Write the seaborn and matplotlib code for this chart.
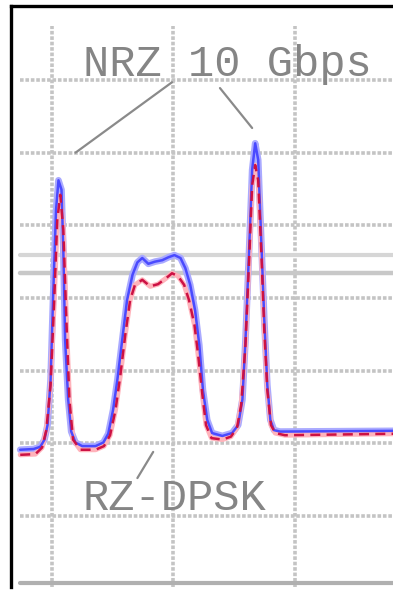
import numpy as np
import pandas as pd
import seaborn as sns
import matplotlib.pyplot as plt

# Frequency offset (GHz) and optical power (dB)
NRZ_FREQ = [-25.2, -23.0, -21.9, -21.2, -20.7, -20.2, -19.8, -19.3, -18.9, -18.4,
            -18.1, -17.8, -17.3, -16.8, -16.1, -15.0, -12.8, -11.5, -10.7, -9.9,
            -9.2, -8.4, -7.6, -6.7, -5.9, -5.1, -4.1, -3.0, -1.8, -0.8,
            0.2, 1.2, 2.0, 2.8, 3.6, 4.3, 4.9, 5.6, 6.4, 8.1,
            9.7, 10.7, 11.4, 11.9, 12.5, 13.0, 13.5, 14.0, 14.5, 15.0,
            15.5, 16.0, 16.6, 17.6, 36.2]
NRZ_POWER = [-60.9, -60.8, -60.5, -59.5, -57.5, -51.3, -40.3, -27.9, -23.8, -25.1,
             -33.4, -45.8, -54.0, -58.4, -59.9, -60.4, -60.4, -59.9, -58.7, -55.4,
             -51.3, -45.8, -40.3, -36.8, -35.1, -34.5, -35.3, -35.0, -34.8, -34.4,
             -34.1, -34.5, -35.9, -38.2, -41.7, -46.5, -52.7, -56.8, -58.6, -59.0,
             -58.6, -57.5, -54.0, -45.8, -33.4, -22.4, -18.7, -21.0, -32.0, -43.0,
             -52.0, -56.8, -58.2, -58.4, -58.3]

RZ_FREQ = [-25.2, -22.7, -21.6, -20.9, -20.2, -19.6, -19.1, -18.6, -18.1, -17.6,
           -17.1, -16.5, -15.3, -12.8, -11.4, -10.4, -9.5, -8.7, -7.9, -7.1,
           -6.3, -5.1, -3.8, -2.5, -1.2, -0.2, 0.8, 1.8, 2.6, 3.5,
           4.1, 4.8, 5.4, 6.3, 8.1, 9.5, 10.5, 11.2, 11.9, 12.5,
           13.0, 13.5, 14.0, 14.5, 15.0, 15.5, 16.1, 16.8, 18.4, 36.2]
RZ_POWER = [-61.6, -61.5, -60.6, -58.2, -52.0, -40.3, -29.3, -25.8, -30.6, -43.0,
            -54.0, -59.5, -60.9, -60.9, -60.4, -58.9, -55.4, -50.6, -45.1, -40.3,
            -38.2, -37.5, -38.4, -38.1, -37.3, -36.6, -37.0, -38.2, -40.3, -43.7,
            -47.8, -53.3, -57.5, -59.3, -59.5, -59.1, -57.9, -54.7, -46.5, -34.8,
            -24.5, -21.7, -23.8, -33.4, -44.4, -52.7, -57.5, -58.6, -58.9, -58.7]

X_GRID = [-20, 0, 20]
Y_GRID = [-10, -20, -30, -40, -50, -60, -70]
REF_LEVELS = [-34.1, -36.5]

nrz = pd.DataFrame({"freq": NRZ_FREQ, "power": NRZ_POWER})
rz = pd.DataFrame({"freq": RZ_FREQ, "power": RZ_POWER})

sns.set_style("white")
plt.rcParams['font.family'] = ['Liberation Mono', 'DejaVu Sans Mono']

fig = plt.figure(figsize=(3.93, 5.90), dpi=100)
ax = fig.add_axes([10.5 / 393, 3 / 590, 1 - 10.5 / 393, 581 / 590])
ax.set_xlim(-26.8, 36.2)
ax.set_ylim(-79.8, 0.2)

# dotted grid, starting a little inside the frame like the original
grid_kw = dict(color='#c4c4c4', lw=2.6, linestyle=(0, (1.0, 0.5)), zorder=0)
for gx in X_GRID:
    ax.axvline(gx, ymin=0, ymax=0.965, **grid_kw)
for gy in Y_GRID:
    ax.axhline(gy, xmin=0.024, xmax=1, **grid_kw)
ax.axhline(REF_LEVELS[0], xmin=0.024, color='#d6d6d6', lw=3.0, zorder=0)
ax.axhline(REF_LEVELS[1], xmin=0.024, color='#c8c8c8', lw=3.2, zorder=0)

# traces: soft halo under each line
sns.lineplot(data=nrz, x="freq", y="power", sort=False, ax=ax,
             color='#aaaaff', lw=4.8, zorder=2)
sns.lineplot(data=rz, x="freq", y="power", sort=False, ax=ax,
             color='#ffb3bb', lw=3.6, zorder=2)
sns.lineplot(data=nrz, x="freq", y="power", sort=False, ax=ax,
             color='#4a4aff', lw=1.8, zorder=3)
ax.plot(RZ_FREQ, RZ_POWER, color='#cc1144', lw=1.8,
        dashes=(4, 2.5), zorder=4)

# labels and leader lines
txt_kw = dict(color='#858585', fontsize=31.5, va='center', ha='left')
ax.text(-14.9, -7.8, "NRZ 10 Gbps", **txt_kw)
ax.text(-15.0, -67.6, "RZ-DPSK", **txt_kw)
lead_kw = dict(color='#8a8a8a', lw=1.6, zorder=5)
ax.plot([-16.1, -0.2], [-20.0, -10.3], **lead_kw)
ax.plot([7.7, 13.0], [-11.1, -16.6], **lead_kw)
ax.plot([-5.9, -3.3], [-64.8, -61.2], **lead_kw)

# frame: black left/top, gray bottom rule
ax.set_xticks([])
ax.set_yticks([])
ax.set_xlabel("")
ax.set_ylabel("")
ax.spines['right'].set_visible(False)
ax.spines['bottom'].set_visible(False)
for side in ['left', 'top']:
    ax.spines[side].set_color('black')
    ax.spines[side].set_linewidth(2.4)
ax.axhline(-79.2, xmin=0.024, color='#b0b0b0', lw=3.0, zorder=1)

fig.savefig("out.png", dpi=100)
